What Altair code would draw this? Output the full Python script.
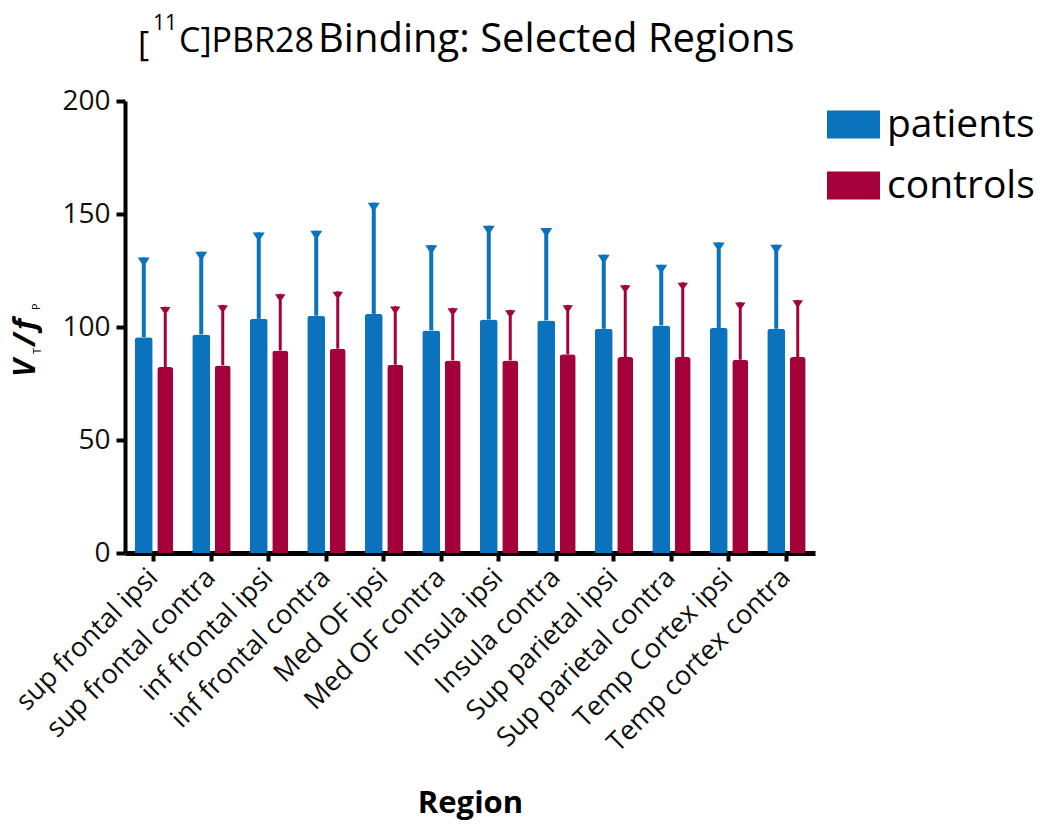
import altair as alt
import pandas as pd

regions = ["sup frontal ipsi", "sup frontal contra", "inf frontal ipsi", "inf frontal contra",
           "Med OF ipsi", "Med OF contra", "Insula ipsi", "Insula contra",
           "Sup parietal ipsi", "Sup parietal contra", "Temp Cortex ipsi", "Temp cortex contra"]
groups = ["patients", "controls"]
patients_mean = [95.5, 96.7, 103.6, 105.0, 105.8, 98.5, 103.3, 102.9, 99.2, 100.7, 99.6, 99.2]
patients_upper = [130.8, 133.3, 141.8, 142.6, 155.0, 136.2, 144.8, 143.8, 132.0, 127.5, 137.4, 136.4]
controls_mean = [82.3, 83.0, 89.6, 90.4, 83.3, 85.2, 85.2, 87.9, 86.7, 86.7, 85.5, 86.7]
controls_upper = [109.0, 109.8, 114.7, 115.8, 109.2, 108.5, 107.6, 109.8, 118.6, 119.8, 111.0, 112.0]
y_ticks = [0, 50, 100, 150, 200]

rows = []
for i, r in enumerate(regions):
    rows.append(dict(region=r, group="patients", mean=patients_mean[i], upper=patients_upper[i]))
    rows.append(dict(region=r, group="controls", mean=controls_mean[i], upper=controls_upper[i]))
df = pd.DataFrame(rows)

BLUE = "#0b72bd"
RED = "#a4003a"
FONT = "Open Sans"
CAP = "M-1,-0.5 L1,-0.5 L0.35,0.5 L-0.35,0.5 Z"
SWATCH = "M-1,-0.53 L1,-0.53 L1,0.53 L-1,0.53 Z"

x_enc = alt.X("region:N", sort=regions,
              scale=alt.Scale(paddingInner=0, paddingOuter=0),
              axis=alt.Axis(title="Region", labelAngle=-45, labelAlign="right", labelBaseline="middle",
                            labelFontSize=27, labelFont=FONT, labelColor="#111111", labelPadding=12,
                            labelLimit=500, tickSize=8, tickWidth=4, tickColor="black",
                            domainWidth=5, domainColor="black",
                            titleFont=FONT, titleFontSize=31, titleFontWeight="bold", titleColor="black",
                            titleY=259, titleBaseline="alphabetic"))


def y_of(field):
    return alt.Y(field, scale=alt.Scale(domain=[0, 200], nice=False),
                 axis=alt.Axis(title="", values=y_ticks, labelFontSize=28, labelFont=FONT,
                               labelColor="#111111", labelPadding=6, tickSize=9, tickWidth=4,
                               tickColor="black", domainWidth=4, domainColor="black", grid=False))


color_enc = alt.Color("group:N", scale=alt.Scale(domain=groups, range=[BLUE, RED]),
                      legend=alt.Legend(title=None, orient="none", legendX=702, legendY=-3,
                                        symbolType=SWATCH, symbolSize=2809, symbolStrokeWidth=0,
                                        symbolOpacity=1, labelFontSize=39, labelFont=FONT,
                                        labelColor="black", labelOffset=7, rowPadding=14, padding=0))

base = alt.Chart(df)
pat = base.transform_filter(alt.datum.group == "patients")
con = base.transform_filter(alt.datum.group == "controls")

bars_p = pat.mark_bar(size=18, xOffset=-10, cornerRadiusTopLeft=3, cornerRadiusTopRight=3).encode(
    x=x_enc, y=y_of("mean:Q"), color=color_enc)
bars_c = con.mark_bar(size=16, xOffset=11.5, cornerRadiusTopLeft=3, cornerRadiusTopRight=3).encode(
    x=x_enc, y=y_of("mean:Q"), color=color_enc)
err_p = pat.mark_rule(strokeWidth=4, xOffset=-10, color=BLUE).encode(x=x_enc, y=y_of("mean:Q"), y2="upper:Q")
err_c = con.mark_rule(strokeWidth=3, xOffset=11.5, color=RED).encode(x=x_enc, y=y_of("mean:Q"), y2="upper:Q")
cap_p = pat.mark_point(shape=CAP, filled=True, size=144, xOffset=-10, yOffset=3, color=BLUE, opacity=1).encode(
    x=x_enc, y=y_of("upper:Q"))
cap_c = con.mark_point(shape=CAP, filled=True, size=110, xOffset=11.5, yOffset=3, color=RED, opacity=1).encode(
    x=x_enc, y=y_of("upper:Q"))


def txt(s, x, y, size, weight="normal", style="normal", angle=0):
    return alt.Chart(alt.Data(values=[{}])).mark_text(
        text=s, align="left", baseline="alphabetic", font=FONT, fontSize=size,
        fontWeight=weight, fontStyle=style, angle=angle, color="black"
    ).encode(x=alt.value(x), y=alt.value(y))


title_parts = [
    txt("[", 13, -45, 34),
    txt("11", 28, -71, 21),
    txt("C]PBR28", 54, -49, 34),
    txt("Binding: Selected Regions", 193, -49, 40),
]
ytitle_parts = [
    txt("V", -90, 276, 30, "bold", "italic", 270),
    txt("T", -84, 253, 11, "normal", "normal", 270),
    txt("/", -90, 245, 30, "bold", "italic", 270),
    txt("f", -90, 229, 30, "bold", "italic", 270),
    txt("P", -85, 209, 11, "normal", "normal", 270),
]

chart = alt.layer(bars_p, bars_c, err_p, err_c, cap_p, cap_c, *title_parts, *ytitle_parts).properties(
    width=690, height=452,
    autosize=alt.AutoSizeParams(type="none"),
    padding={"left": 117, "top": 93, "right": 227, "bottom": 270},
    background="white",
).configure_view(stroke=None)

chart.save("out.html", embed_options={"renderer": "svg", "actions": False})
